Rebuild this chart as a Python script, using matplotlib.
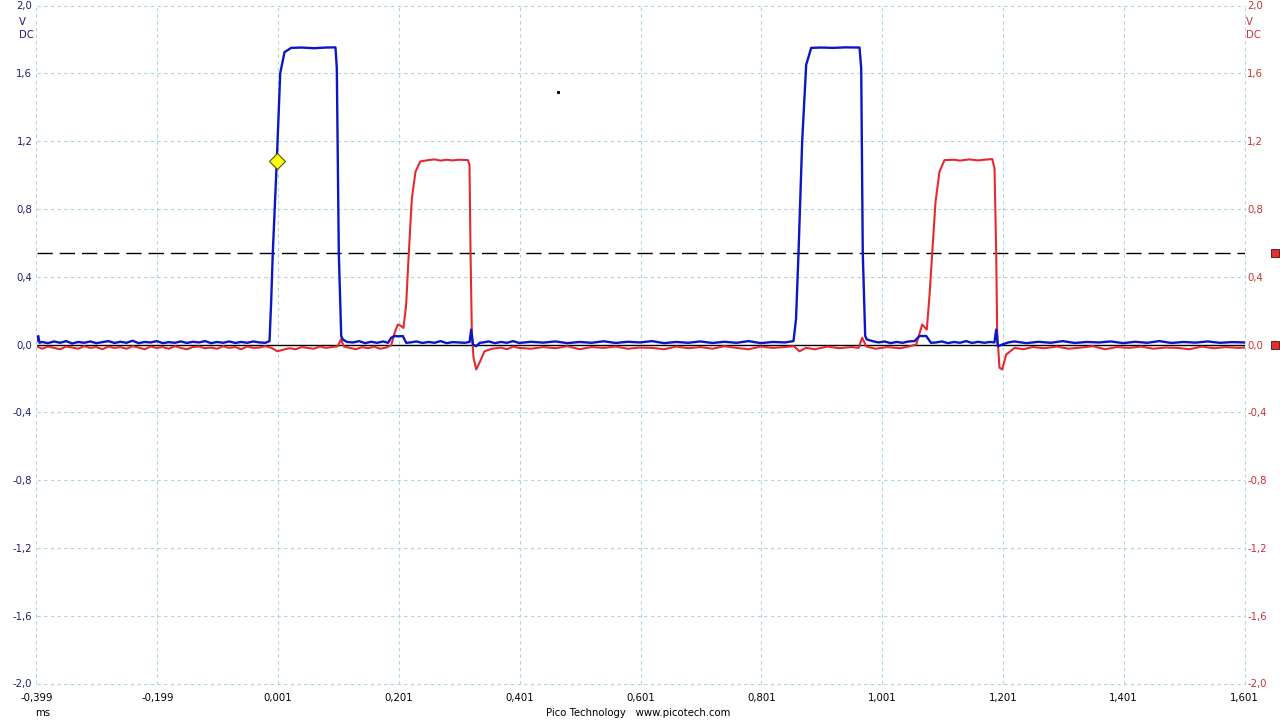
import matplotlib
matplotlib.use("Agg")
import matplotlib.pyplot as plt
from matplotlib.transforms import blended_transform_factory

plt.rcParams['font.family'] = ['DejaVu Sans']

# ---------------- data (ms, V) ----------------
x_ticks = [-0.399, -0.199, 0.001, 0.201, 0.401, 0.601, 0.801, 1.001, 1.201, 1.401, 1.601]
x_labels = ['-0,399', '-0,199', '0,001', '0,201', '0,401', '0,601', '0,801', '1,001', '1,201', '1,401', '1,601']
y_ticks = [-2.0, -1.6, -1.2, -0.8, -0.4, 0.0, 0.4, 0.8, 1.2, 1.6, 2.0]
y_labels = ['-2,0', '-1,6', '-1,2', '-0,8', '-0,4', '0,0', '0,4', '0,8', '1,2', '1,6', '2,0']

# Channel A (blue): (time ms, volts)
blue_points = [
    (-0.399, 0.02), (-0.396, 0.05), (-0.394, 0.01), (-0.39, 0.015), (-0.38, 0.008),
    (-0.37, 0.018), (-0.36, 0.01), (-0.35, 0.02), (-0.34, 0.006), (-0.33, 0.015),
    (-0.32, 0.01), (-0.31, 0.018), (-0.30, 0.008), (-0.29, 0.014), (-0.28, 0.02),
    (-0.27, 0.009), (-0.26, 0.016), (-0.25, 0.01), (-0.24, 0.022), (-0.23, 0.008),
    (-0.22, 0.015), (-0.21, 0.012), (-0.20, 0.02), (-0.19, 0.008), (-0.18, 0.014),
    (-0.17, 0.01), (-0.16, 0.018), (-0.15, 0.009), (-0.14, 0.016), (-0.13, 0.012),
    (-0.12, 0.02), (-0.11, 0.008), (-0.10, 0.015), (-0.09, 0.01), (-0.08, 0.018),
    (-0.07, 0.009), (-0.06, 0.015), (-0.05, 0.01), (-0.04, 0.018), (-0.03, 0.012),
    (-0.02, 0.01), (-0.0132, 0.02), (-0.0105, 0.25), (-0.0078, 0.54), (-0.0012, 1.08),
    (0.0045, 1.6), (0.0116, 1.725), (0.0227, 1.75), (0.04, 1.752), (0.06, 1.748),
    (0.08, 1.752), (0.096, 1.753), (0.0982, 1.63), (0.1015, 0.54), (0.1055, 0.05),
    (0.1081, 0.03), (0.115, 0.015), (0.125, 0.012), (0.135, 0.02), (0.145, 0.008),
    (0.155, 0.016), (0.165, 0.01), (0.175, 0.018), (0.183, 0.01), (0.1882, 0.04),
    (0.194, 0.05), (0.2, 0.048), (0.2075, 0.05), (0.213, 0.01), (0.22, 0.012),
    (0.23, 0.018), (0.24, 0.009), (0.25, 0.015), (0.26, 0.01), (0.27, 0.02),
    (0.28, 0.008), (0.29, 0.014), (0.30, 0.012), (0.31, 0.01), (0.318, 0.015),
    (0.3207, 0.088), (0.3235, 0.0), (0.329, -0.01), (0.335, 0.01), (0.34, 0.012),
    (0.35, 0.018), (0.36, 0.008), (0.37, 0.015), (0.38, 0.01), (0.39, 0.02),
    (0.40, 0.009), (0.42, 0.016), (0.44, 0.011), (0.46, 0.018), (0.48, 0.008),
    (0.50, 0.015), (0.52, 0.01), (0.54, 0.019), (0.56, 0.009), (0.58, 0.016),
    (0.60, 0.012), (0.62, 0.02), (0.64, 0.008), (0.66, 0.015), (0.68, 0.01),
    (0.70, 0.018), (0.72, 0.009), (0.74, 0.016), (0.76, 0.01), (0.78, 0.02),
    (0.80, 0.008), (0.82, 0.015), (0.84, 0.012), (0.8543, 0.02), (0.8585, 0.15),
    (0.8626, 0.54), (0.8687, 1.2), (0.8753, 1.65), (0.8836, 1.75), (0.90, 1.752),
    (0.92, 1.75), (0.94, 1.753), (0.9636, 1.752), (0.9664, 1.63), (0.969, 0.54),
    (0.973, 0.05), (0.9757, 0.03), (0.985, 0.02), (0.995, 0.012), (1.005, 0.018),
    (1.015, 0.008), (1.025, 0.015), (1.035, 0.01), (1.045, 0.018), (1.0546, 0.02),
    (1.063, 0.05), (1.074, 0.05), (1.082, 0.01), (1.09, 0.012), (1.10, 0.018),
    (1.11, 0.008), (1.12, 0.015), (1.13, 0.01), (1.14, 0.02), (1.15, 0.009),
    (1.16, 0.016), (1.17, 0.01), (1.18, 0.015), (1.187, 0.012), (1.1899, 0.088),
    (1.1926, -0.01), (1.2, 0.0), (1.21, 0.012), (1.22, 0.018), (1.24, 0.008),
    (1.26, 0.016), (1.28, 0.01), (1.30, 0.02), (1.32, 0.009), (1.34, 0.015),
    (1.36, 0.012), (1.38, 0.018), (1.40, 0.008), (1.42, 0.016), (1.44, 0.01),
    (1.46, 0.02), (1.48, 0.009), (1.50, 0.015), (1.52, 0.011), (1.54, 0.018),
    (1.56, 0.01), (1.58, 0.014), (1.601, 0.012),
]

# Channel B (red): (time ms, volts)
red_points = [
    (-0.399, -0.01), (-0.39, -0.025), (-0.38, -0.012), (-0.37, -0.02), (-0.36, -0.028),
    (-0.35, -0.012), (-0.34, -0.018), (-0.33, -0.025), (-0.32, -0.01), (-0.31, -0.02),
    (-0.30, -0.015), (-0.29, -0.028), (-0.28, -0.012), (-0.27, -0.02), (-0.26, -0.015),
    (-0.25, -0.025), (-0.24, -0.01), (-0.23, -0.018), (-0.22, -0.028), (-0.21, -0.012),
    (-0.20, -0.02), (-0.19, -0.015), (-0.18, -0.025), (-0.17, -0.01), (-0.16, -0.02),
    (-0.15, -0.028), (-0.14, -0.015), (-0.13, -0.012), (-0.12, -0.022), (-0.11, -0.018),
    (-0.10, -0.025), (-0.09, -0.01), (-0.08, -0.02), (-0.07, -0.015), (-0.06, -0.028),
    (-0.05, -0.012), (-0.04, -0.02), (-0.03, -0.018), (-0.02, -0.01), (-0.01, -0.02),
    (0.0, -0.04), (0.01, -0.03), (0.02, -0.022), (0.03, -0.028), (0.04, -0.015),
    (0.05, -0.02), (0.06, -0.025), (0.07, -0.012), (0.08, -0.02), (0.09, -0.015),
    (0.1, -0.01), (0.105, 0.03), (0.11, -0.012), (0.12, -0.02), (0.13, -0.028),
    (0.14, -0.015), (0.15, -0.022), (0.16, -0.012), (0.17, -0.025), (0.18, -0.018),
    (0.1882, -0.005), (0.194, 0.07), (0.1992, 0.118), (0.204, 0.11), (0.2086, 0.098),
    (0.213, 0.235), (0.2174, 0.54), (0.2224, 0.86), (0.2285, 1.02), (0.2363, 1.08),
    (0.25, 1.088), (0.26, 1.092), (0.27, 1.085), (0.28, 1.09), (0.29, 1.086),
    (0.30, 1.09), (0.3151, 1.088), (0.3179, 1.06), (0.3196, 0.54), (0.3217, 0.08),
    (0.3245, -0.078), (0.329, -0.147), (0.3344, -0.108), (0.3427, -0.04), (0.355, -0.025),
    (0.37, -0.018), (0.38, -0.028), (0.39, -0.012), (0.40, -0.02), (0.42, -0.025),
    (0.44, -0.015), (0.46, -0.022), (0.48, -0.01), (0.50, -0.028), (0.52, -0.015),
    (0.54, -0.02), (0.56, -0.012), (0.58, -0.025), (0.60, -0.018), (0.62, -0.02),
    (0.64, -0.028), (0.66, -0.012), (0.68, -0.022), (0.70, -0.015), (0.72, -0.025),
    (0.74, -0.01), (0.76, -0.02), (0.78, -0.028), (0.80, -0.012), (0.82, -0.02),
    (0.84, -0.015), (0.855, -0.01), (0.864, -0.04), (0.875, -0.02), (0.89, -0.028),
    (0.91, -0.012), (0.93, -0.022), (0.95, -0.015), (0.962, -0.02), (0.968, 0.04),
    (0.975, -0.012), (0.99, -0.025), (1.01, -0.015), (1.03, -0.022), (1.045, -0.012),
    (1.0575, 0.0), (1.0674, 0.118), (1.075, 0.088), (1.0795, 0.29), (1.084, 0.54),
    (1.0894, 0.84), (1.096, 1.02), (1.1043, 1.088), (1.12, 1.09), (1.13, 1.085),
    (1.145, 1.092), (1.16, 1.086), (1.17, 1.09), (1.1833, 1.094), (1.1871, 1.04),
    (1.1899, 0.54), (1.1915, 0.08), (1.1953, -0.137), (1.1998, -0.147), (1.2064, -0.06),
    (1.2202, -0.02), (1.235, -0.028), (1.25, -0.015), (1.27, -0.022), (1.29, -0.012),
    (1.31, -0.025), (1.33, -0.018), (1.35, -0.01), (1.37, -0.028), (1.39, -0.015),
    (1.41, -0.02), (1.43, -0.012), (1.45, -0.025), (1.47, -0.018), (1.49, -0.02),
    (1.51, -0.028), (1.53, -0.012), (1.55, -0.022), (1.57, -0.015), (1.59, -0.02),
    (1.601, -0.018),
]

trigger_level = 0.54
trigger_point = (0.0, 1.08)
stray_dot = (0.465, 1.49)

blue_t = [p[0] for p in blue_points]
blue_v = [p[1] for p in blue_points]
red_t = [p[0] for p in red_points]
red_v = [p[1] for p in red_points]

# ---------------- figure ----------------
W, H = 1280, 720
fig = plt.figure(figsize=(W / 100, H / 100), dpi=100)
fig.patch.set_facecolor('white')
L, R, T, B = 36.5, 1244.5, 5.5, 683.5
ax = fig.add_axes([L / W, 1 - B / H, (R - L) / W, (B - T) / H])
ax.set_xlim(-0.399, 1.601)
ax.set_ylim(-2.0, 2.0)
for s in ax.spines.values():
    s.set_visible(False)

grid_col = '#aad6de'
for xt in x_ticks:
    ax.axvline(xt, color=grid_col, lw=0.8, dashes=(3, 3), zorder=1, clip_on=False)
for yt in y_ticks:
    ax.axhline(yt, color=grid_col, lw=0.8, dashes=(3, 3), zorder=1, clip_on=False)

ax.set_xticks(x_ticks)
ax.set_xticklabels(x_labels)
ax.set_yticks(y_ticks)
ax.set_yticklabels(y_labels)
ax.tick_params(axis='both', length=0, labelsize=7.3)
ax.tick_params(axis='x', pad=7, colors='black')
ax.tick_params(axis='y', pad=3, labelcolor='#1c1c7c')

ax2 = ax.twinx()
ax2.set_ylim(-2.0, 2.0)
ax2.set_yticks(y_ticks)
ax2.set_yticklabels(y_labels)
ax2.tick_params(axis='y', length=0, labelsize=7.3, pad=2, labelcolor='#c83232')
for s in ax2.spines.values():
    s.set_visible(False)

# reference lines
ax.axhline(0.0, color='black', lw=1.0, zorder=2)
ax.axhline(trigger_level, color='black', lw=1.0, dashes=(11, 5), zorder=2)

# traces
ax.plot(red_t, red_v, color='#e52a2f', lw=1.5, zorder=3)
ax.plot(blue_t, blue_v, color='#0b16c4', lw=1.7, zorder=4)

ax.plot([trigger_point[0]], [trigger_point[1]], marker='D', ms=8, mfc='#ffff10',
        mec='#555500', mew=0.8, zorder=6)
ax.plot([stray_dot[0]], [stray_dot[1]], marker='s', ms=1.2, color='black', zorder=5)

# right-side markers
tr = blended_transform_factory(ax.transAxes, ax.transData)
ax.plot([(1275 - L) / (R - L)] * 2, [trigger_level, 0.0], transform=tr, ls='none',
        marker='s', ms=5.5, mfc='#e03030', mec='#602020', mew=0.7, clip_on=False, zorder=6)

# unit labels
fs = 7.3
fig.text(19 / W, 1 - 22 / H, 'V', color='#1c1c7c', fontsize=fs, ha='left', va='center')
fig.text(19 / W, 1 - 35 / H, 'DC', color='#1c1c7c', fontsize=fs, ha='left', va='center')
fig.text(1246 / W, 1 - 22 / H, 'V', color='#c83232', fontsize=fs, ha='left', va='center')
fig.text(1246 / W, 1 - 35 / H, 'DC', color='#c83232', fontsize=fs, ha='left', va='center')
fig.text(43 / W, 1 - 713 / H, 'ms', color='black', fontsize=fs, ha='center', va='center')
fig.text(638 / W, 1 - 713 / H, 'Pico Technology   www.picotech.com', color='black',
         fontsize=fs, ha='center', va='center')

fig.savefig('out.png', dpi=100, facecolor='white')
